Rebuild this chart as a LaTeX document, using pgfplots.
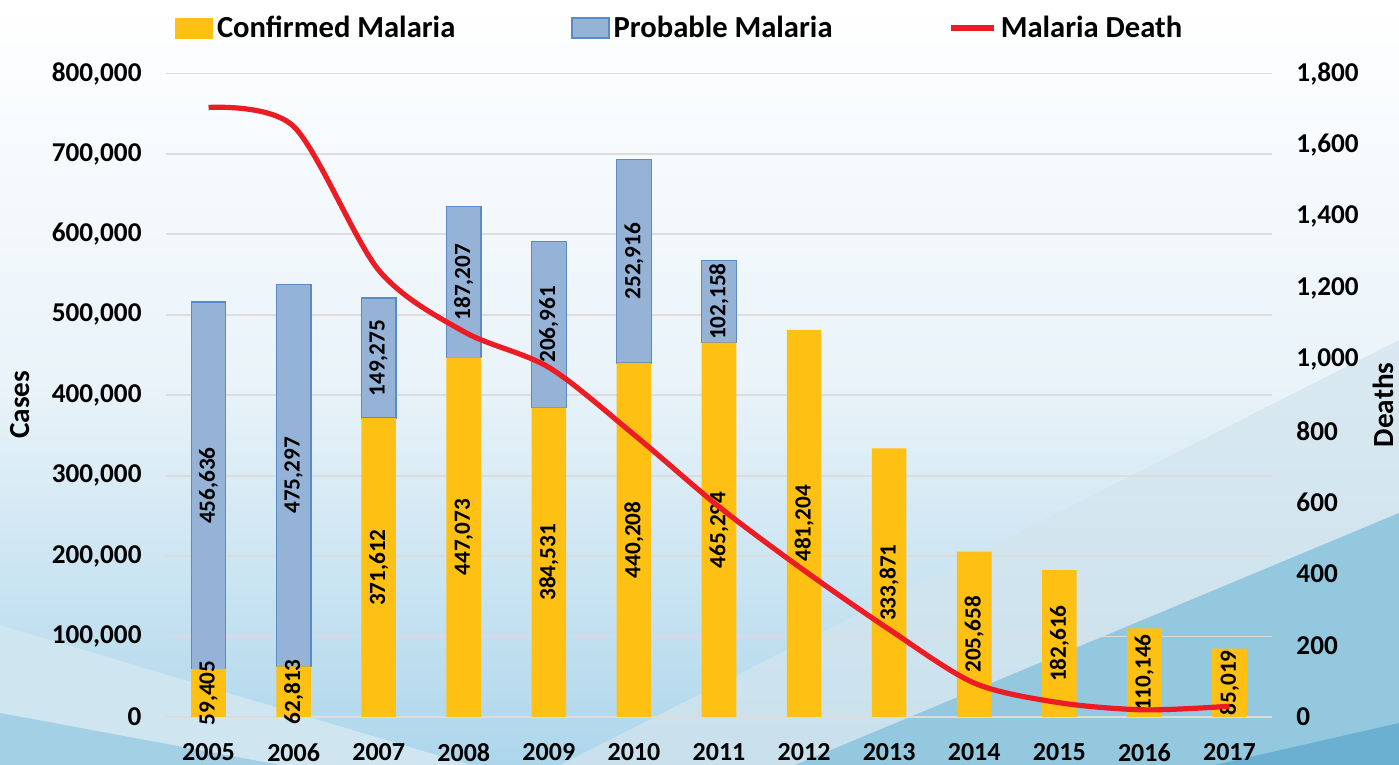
\documentclass[border=0pt]{standalone}
\usepackage{pgfplots}
\pgfplotsset{compat=1.18}
\usepackage{pgfplotstable}
\usepackage{fontspec}
\setmainfont{Carlito}
\definecolor{cgold}{HTML}{FDC013}
\definecolor{cblue}{HTML}{95B3D7}
\definecolor{cblueedge}{HTML}{5B8BC7}
\definecolor{cred}{HTML}{EC1C24}
\definecolor{cgrid}{HTML}{DCDCDC}
\definecolor{bgmid}{HTML}{E9F3F9}
\definecolor{bgbot}{HTML}{ADD6EB}
\definecolor{wgrey}{HTML}{D3E5EE}
\definecolor{wdark}{HTML}{93C8DF}
\definecolor{wdarkest}{HTML}{6BB0D1}
\definecolor{llight}{HTML}{CFE5EF}
\definecolor{ldark}{HTML}{A3D0E5}

\pgfplotstableread{
x c
0 59405
1 62813
2 371612
3 447073
4 384531
5 440208
6 465294
7 481204
8 333871
9 205658
10 182616
11 110146
12 85019
}\conf
\pgfplotstableread{
x c p
0 59405 456636
1 62813 475297
2 371612 149275
3 447073 187207
4 384531 206961
5 440208 252916
6 465294 102158
}\prob
\pgfplotstableread{
x d
0 1705
1 1652
2 1250
3 1078
4 978
5 790
6 588
7 410
8 245
9 95
10 40
11 20
12 30
}\deaths

\newcommand{\tickfont}{\bfseries\fontsize{13.6}{13.6}\selectfont}
\newcommand{\xtickfont}{\bfseries\fontsize{13}{13}\selectfont}
\newcommand{\labfont}{\bfseries\fontsize{14.6}{14.6}\selectfont}
\newcommand{\datfont}{\bfseries\fontsize{11.6}{11.6}\selectfont}

\pgfplotsset{
  base/.style={
    at={(83pt,24pt)}, anchor=south west,
    scale only axis, width=553pt, height=321.75pt,
    xmin=-0.5, xmax=12.5,
    scaled ticks=false,
    /pgf/number format/fixed,
    /pgf/number format/precision=0,
    /pgf/number format/assume math mode=true,
    /pgf/number format/1000 sep={,},
    major tick length=0pt,
    tick label style={font=\tickfont},
  }
}

\begin{document}
\begin{tikzpicture}
\useasboundingbox (0pt,0pt) rectangle (699.5pt,382.5pt);
% background
\shade[top color=white, bottom color=bgmid] (0pt,190pt) rectangle (699.5pt,382.5pt);
\shade[top color=bgmid, bottom color=bgbot] (0pt,0pt) rectangle (699.5pt,190.5pt);
\fill[wgrey, opacity=0.75] (699.5pt,212.5pt) -- (280pt,0pt) -- (699.5pt,0pt) -- cycle;
\fill[wdark] (699.5pt,126pt) -- (397.5pt,0pt) -- (699.5pt,0pt) -- cycle;
\fill[wdarkest] (699.5pt,21pt) -- (607.5pt,0pt) -- (699.5pt,0pt) -- cycle;
\fill[llight] (0pt,70pt) -- (235pt,0pt) -- (0pt,0pt) -- cycle;
\fill[ldark] (0pt,26pt) -- (140pt,0pt) -- (0pt,0pt) -- cycle;

% bars
\begin{axis}[base,
  ymin=0, ymax=800000,
  ybar stacked, bar width=17.3pt,
  axis line style={draw=none},
  ymajorgrids, grid style={cgrid, line width=0.9pt},
  xtick={0,...,12},
  xticklabels={2005,2006,2007,2008,2009,2010,2011,2012,2013,2014,2015,2016,2017},
  xticklabel style={yshift=-9.7pt, font=\xtickfont},
  ytick={0,100000,200000,300000,400000,500000,600000,700000,800000},
  yticklabel style={xshift=-8.7pt},
  ylabel={Cases},
  ylabel style={font=\labfont, at={(axis description cs:-0.132,0.485)}, anchor=center},
]
\addplot[fill=cgold, draw=none] table[x=x,y=c]{\conf};
\addplot[fill=cblue, draw=cblueedge, line width=0.6pt] table[x=x,y=p]{\prob};
\end{axis}

% data labels
\begin{axis}[base, hide axis, ymin=0, ymax=800000]
\addplot[only marks, mark=*, mark size=0pt, mark options={draw=none, fill=none},
  nodes near coords, point meta=explicit,
  every node near coord/.style={rotate=90, anchor=center, font=\datfont, text=black}]
  table[x=x, y expr=\thisrow{c}/2, meta=c]{\conf};
\addplot[only marks, mark=*, mark size=0pt, mark options={draw=none, fill=none},
  nodes near coords, point meta=explicit,
  every node near coord/.style={rotate=90, anchor=center, font=\datfont, text=black}]
  table[x=x, y expr=\thisrow{c}+\thisrow{p}/2, meta=p]{\prob};
\end{axis}

% deaths
\begin{axis}[base,
  ymin=0, ymax=1800,
  axis y line*=right, axis x line=none,
  y axis line style={draw=none},
  ytick={0,200,...,1800},
  yticklabel style={xshift=8.7pt},
  ylabel={Deaths},
  ylabel style={font=\labfont, at={(axis description cs:1.1004,0.485)}, anchor=center},
  legend columns=3,
  legend style={draw=none, fill=none, at={(axis description cs:0.008,1.0707)}, anchor=west,
    inner sep=0pt, font=\bfseries\fontsize{15.3}{15.3}\selectfont,
    /tikz/every even column/.append style={column sep=56pt},
    nodes={inner sep=2pt}},
]
\addlegendimage{legend image code/.code={\fill[cgold] (0pt,-5pt) rectangle (18.5pt,5pt);}}
\addlegendentry{Confirmed Malaria}
\addlegendimage{legend image code/.code={\filldraw[fill=cblue, draw=cblueedge, line width=0.6pt] (0pt,-5pt) rectangle (18.5pt,5pt);}}
\addlegendentry{Probable Malaria}
\addplot[cred, line width=2.6pt, smooth, mark=none,
  legend image code/.code={\draw[cred, line width=2.6pt] (0pt,0pt) -- (21.5pt,0pt);}]
  table[x=x,y=d]{\deaths};
\addlegendentry{Malaria Death}
\end{axis}
\end{tikzpicture}
\end{document}
